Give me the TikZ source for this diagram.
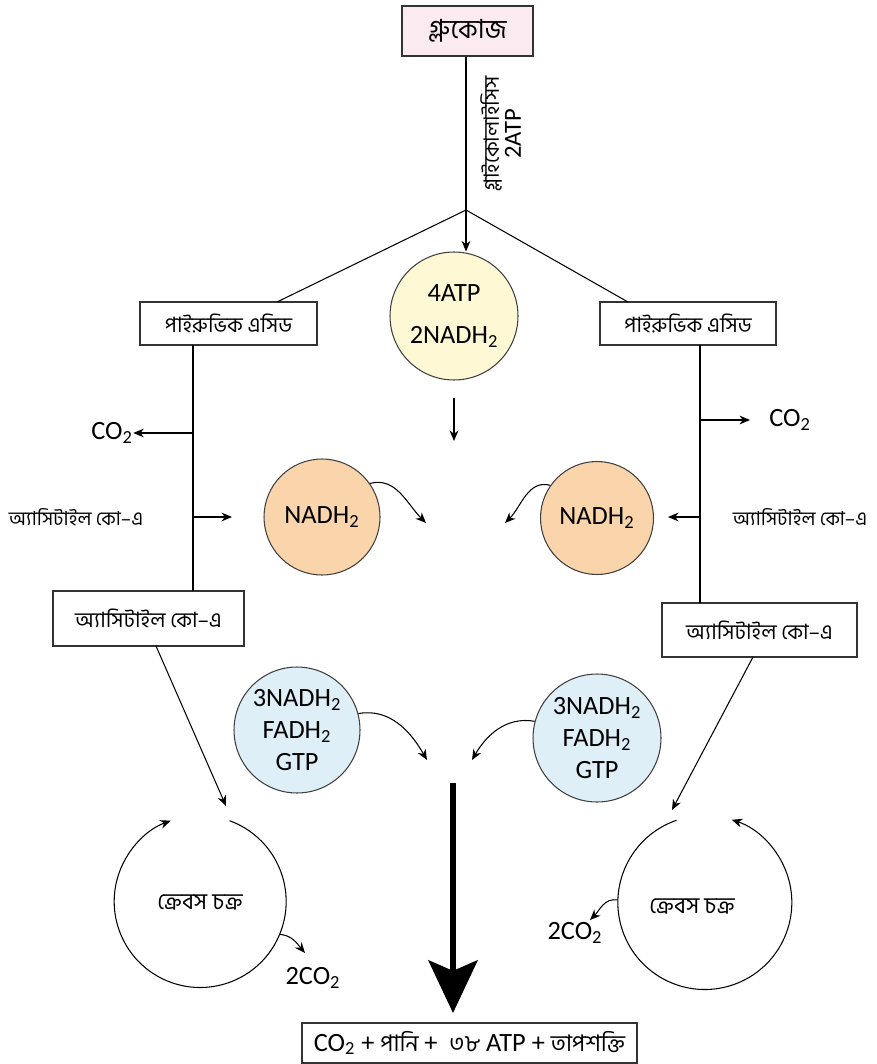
\documentclass[tikz,border=0pt]{standalone}
\usepackage{fontspec}
\setmainfont{Carlito}
\newfontfamily\bn[Script=Bengali]{Hind Siliguri}
\usetikzlibrary{arrows.meta,calc}
\definecolor{pinkf}{HTML}{FCEAF1}
\definecolor{yelf}{HTML}{FFF8D4}
\definecolor{oraf}{HTML}{FAD5AB}
\definecolor{bluf}{HTML}{DEEFF8}
\begin{document}
\begin{tikzpicture}[x=0.02cm,y=0.02cm, line width=0.6pt,
 >={Stealth[length=6pt,width=5pt]},
 box/.style={draw=black!80, line width=0.9pt, inner sep=0pt, font=\bn\fontsize{12}{14}\selectfont},
 ball/.style={circle, draw=black!75, line width=0.6pt, inner sep=0pt, align=center},
 lbl/.style={inner sep=0pt, font=\fontsize{15}{16}\selectfont},
 bnl/.style={inner sep=0pt, font=\bn\fontsize{11}{13}\selectfont}]
\useasboundingbox (0,0) rectangle (876,-1064);

% boxes
\node[box, fill=pinkf, minimum width=2.62cm, minimum height=1cm, font=\bn\fontsize{15}{17}\selectfont] (glu) at (467.5,-31) {গ্লুকোজ};
\node[box, minimum width=3.54cm, minimum height=0.86cm] (lp) at (228.5,-323.5) {পাইরুভিক এসিড};
\node[box, minimum width=3.52cm, minimum height=0.86cm] (rp) at (688,-323.5) {পাইরুভিক এসিড};
\node[box, minimum width=3.82cm, minimum height=1.1cm] (la) at (148.5,-618.5) {অ্যাসিটাইল কো–এ};
\node[box, minimum width=3.9cm, minimum height=1.08cm] (ra) at (759.5,-630) {অ্যাসিটাইল কো–এ};
\node[box, minimum width=6.7cm, minimum height=0.8cm, font=\fontsize{15}{17}\selectfont] (bot) at (469.5,-1043)
 {CO\textsubscript{2} + {\bn\fontsize{13}{15}\selectfont পানি} + \ {\bn\fontsize{13}{15}\selectfont ৩৮} ATP + {\bn\fontsize{13}{15}\selectfont তাপশক্তি}};

% circles
\node[ball, fill=yelf, minimum size=2.56cm, font=\fontsize{15}{24}\selectfont] (yc) at (454,-316) {4ATP\\2NADH\textsubscript{2}};
\node[ball, fill=oraf, minimum size=2.32cm, font=\fontsize{15}{17}\selectfont] (oL) at (322,-517) {NADH\textsubscript{2}};
\node[ball, fill=oraf, minimum size=2.26cm, font=\fontsize{15}{17}\selectfont] (oR) at (597,-518) {NADH\textsubscript{2}};
\node[ball, fill=bluf, minimum size=2.52cm, font=\fontsize{15}{18}\selectfont] (bL) at (297,-730) {3NADH\textsubscript{2}\\FADH\textsubscript{2}\\GTP};
\node[ball, fill=bluf, minimum size=2.56cm, font=\fontsize{15}{18}\selectfont] (bR) at (597,-738) {3NADH\textsubscript{2}\\FADH\textsubscript{2}\\GTP};
\node[circle, minimum size=3.44cm, inner sep=0pt, font=\bn\fontsize{13}{15}\selectfont] (kL) at (200,-902) {ক্রেবস চক্র};
\node[circle, minimum size=3.48cm, inner sep=0pt] (kR) at (705,-903) {};
\node[inner sep=0pt, font=\bn\fontsize{13}{15}\selectfont] (kRt) at (692,-906) {ক্রেবস চক্র};

% labels
\node[inner sep=0pt, rotate=90, font=\bn\fontsize{12}{14}\selectfont] (gly) at (491,-134) {গ্লাইকোলাইসিস};
\node[lbl, rotate=90, font=\fontsize{14}{16}\selectfont] (atp) at (513,-134) {2ATP};
\node[lbl] (co2L) at (112,-433) {CO\textsubscript{2}};
\node[lbl] (co2R) at (790,-420) {CO\textsubscript{2}};
\node[bnl] (acL) at (76,-517) {অ্যাসিটাইল কো–এ};
\node[bnl] (acR) at (800,-517) {অ্যাসিটাইল কো–এ};
\node[lbl] (c2L) at (313,-978) {2CO\textsubscript{2}};
\node[lbl] (c2R) at (575,-933) {2CO\textsubscript{2}};

% coordinates
\coordinate (J) at (466,-210);
\coordinate (lpT) at (277,-302);
\coordinate (rpT) at (628,-302);
\coordinate (lvT) at (193,-345);
\coordinate (lvB) at (193,-591);
\coordinate (rvT) at (700,-345);
\coordinate (rvB) at (700,-603);
\coordinate (lco) at (193,-433);
\coordinate (lac) at (193,-517);
\coordinate (lacE) at (232,-517);
\coordinate (rco) at (700,-420);
\coordinate (rcoE) at (750,-420);
\coordinate (rac) at (700,-517);
\coordinate (racE) at (668,-517);
\coordinate (ydS) at (454,-398);
\coordinate (ydE) at (454,-441);
\coordinate (oLE) at (426,-523);
\coordinate (oRE) at (505,-523);
\coordinate (bLE) at (427,-760);
\coordinate (bRE) at (472,-760);
\coordinate (bigS) at (453,-783);
\coordinate (bigE) at (453,-1013);
\coordinate (laS) at (156,-646);
\coordinate (laE) at (226,-806);
\coordinate (raS) at (753,-657);
\coordinate (raE) at (672,-810);
\coordinate (c2LE) at (305,-953);
\coordinate (c2RE) at (590,-920);

% connectors
\draw (glu.south -| J) -- (J);
\draw (J) -- (lpT);
\draw (J) -- (rpT);
\draw[->] (J) -- (J |- yc.north);
\draw[->] (ydS) -- (ydE);
\draw (lvT) -- (lvB);
\draw (rvT) -- (rvB);
\draw[->] (lco) -- (co2L.east) ;
\draw[->] (lac) -- (lacE);
\draw[->] (rco) -- (rcoE);
\draw[->] (rac) -- (racE);
\draw[->] (oL.35) to[out=15,in=135] (oLE);
\draw[->] (oR.145) to[out=165,in=45] (oRE);
\draw[->] (bL.15) to[out=10,in=120] (bLE);
\draw[->] (bR.165) to[out=170,in=60] (bRE);
\draw[line width=3pt, -{Stealth[length=30pt,width=28pt,inset=6pt]}] (bigS) -- (bigE);
\draw[->] (laS) -- (laE);
\draw[->] (raS) -- (raE);
\draw[->] (kL.70) arc[start angle=70, end angle=-250, radius=1.72cm];
\draw[->] (kR.109) arc[start angle=109, end angle=432, radius=1.74cm];
\draw[->] (kL.-22) to[out=-5,in=130] (c2LE);
\draw[->] (kR.178) to[out=170,in=45] (c2RE);
\end{tikzpicture}
\end{document}
